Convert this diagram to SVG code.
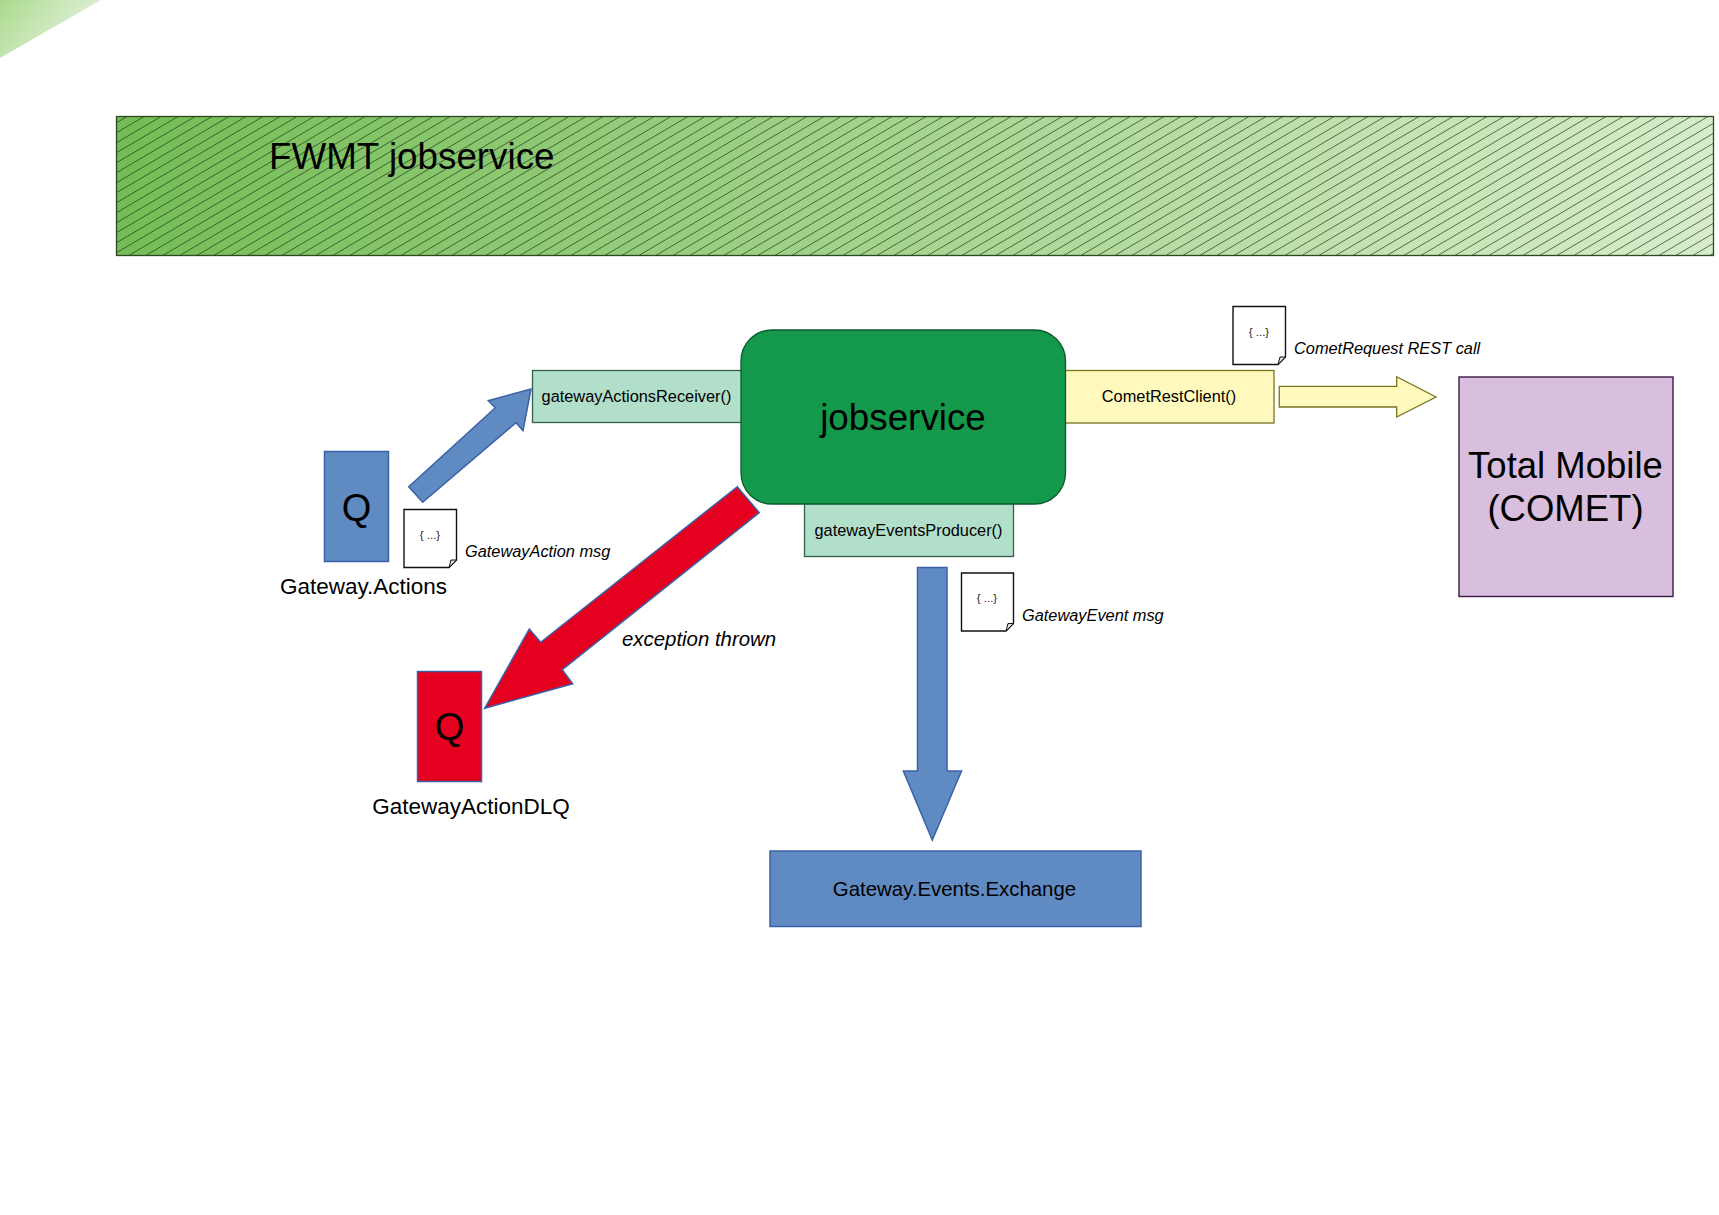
<svg xmlns="http://www.w3.org/2000/svg" width="1719" height="1215" viewBox="0 0 1719 1215">
<style>
text{font-family:"Liberation Sans",Arial,sans-serif;fill:#000}
.c{text-anchor:middle}
.i{font-style:italic}
.s17{font-size:16.35px}
.s36{font-size:36.8px}
.s22{font-size:22.5px}
.s20{font-size:20.4px}
.q{font-size:38px;text-anchor:middle}
.blue{fill:#608ac2;stroke:#3a62a8;stroke-width:1.5}
.red{fill:#e4001e;stroke:#3a62a8;stroke-width:1.5}
.mint{fill:#b2dfca;stroke:#2f6048;stroke-width:1.3}
.yel{fill:#fff9be;stroke:#77761e;stroke-width:1.3}
.doc{fill:#fff;stroke:#111;stroke-width:1.4}
.fold{fill:#ddd;stroke:#111;stroke-width:1}
.br{font-size:11.4px;text-anchor:middle;fill:#222}
</style>
<defs>
<linearGradient id="bannerGrad" gradientUnits="userSpaceOnUse" x1="116" y1="116" x2="1714" y2="255">
<stop offset="0" stop-color="#74bc55"/><stop offset="1" stop-color="#d8eccb"/>
</linearGradient>
<linearGradient id="triGrad" gradientUnits="userSpaceOnUse" x1="0" y1="0" x2="70" y2="60">
<stop offset="0" stop-color="#a9d98c"/><stop offset="1" stop-color="#e6f3de"/>
</linearGradient>
<clipPath id="bannerClip"><rect x="116.5" y="116.5" width="1597" height="139"/></clipPath>
</defs>
<rect width="1719" height="1215" fill="#fff"/>
<polygon id="corner" points="0,0 101,0 0,58" fill="url(#triGrad)"/>
<g id="banner">
<rect x="116.5" y="116.5" width="1597" height="139" fill="url(#bannerGrad)"/>
<path clip-path="url(#bannerClip)" fill="none" stroke="#1c3b12" stroke-width="0.7" d="M-109.25,255.5l238,-140
m-221,140l238,-140m-221,140l238,-140m-221,140l238,-140m-221,140l238,-140m-221,140l238,-140m-221,140l238,-140m-221,140l238,-140m-221,140l238,-140m-221,140l238,-140m-221,140l238,-140m-221,140l238,-140
m-221,140l238,-140m-221,140l238,-140m-221,140l238,-140m-221,140l238,-140m-221,140l238,-140m-221,140l238,-140m-221,140l238,-140m-221,140l238,-140m-221,140l238,-140m-221,140l238,-140m-221,140l238,-140
m-221,140l238,-140m-221,140l238,-140m-221,140l238,-140m-221,140l238,-140m-221,140l238,-140m-221,140l238,-140m-221,140l238,-140m-221,140l238,-140m-221,140l238,-140m-221,140l238,-140m-221,140l238,-140
m-221,140l238,-140m-221,140l238,-140m-221,140l238,-140m-221,140l238,-140m-221,140l238,-140m-221,140l238,-140m-221,140l238,-140m-221,140l238,-140m-221,140l238,-140m-221,140l238,-140m-221,140l238,-140
m-221,140l238,-140m-221,140l238,-140m-221,140l238,-140m-221,140l238,-140m-221,140l238,-140m-221,140l238,-140m-221,140l238,-140m-221,140l238,-140m-221,140l238,-140m-221,140l238,-140m-221,140l238,-140
m-221,140l238,-140m-221,140l238,-140m-221,140l238,-140m-221,140l238,-140m-221,140l238,-140m-221,140l238,-140m-221,140l238,-140m-221,140l238,-140m-221,140l238,-140m-221,140l238,-140m-221,140l238,-140
m-221,140l238,-140m-221,140l238,-140m-221,140l238,-140m-221,140l238,-140m-221,140l238,-140m-221,140l238,-140m-221,140l238,-140m-221,140l238,-140m-221,140l238,-140m-221,140l238,-140m-221,140l238,-140
m-221,140l238,-140m-221,140l238,-140m-221,140l238,-140m-221,140l238,-140m-221,140l238,-140m-221,140l238,-140m-221,140l238,-140m-221,140l238,-140m-221,140l238,-140m-221,140l238,-140m-221,140l238,-140
m-221,140l238,-140m-221,140l238,-140m-221,140l238,-140m-221,140l238,-140m-221,140l238,-140m-221,140l238,-140m-221,140l238,-140m-221,140l238,-140m-221,140l238,-140m-221,140l238,-140m-221,140l238,-140
m-221,140l238,-140m-221,140l238,-140m-221,140l238,-140m-221,140l238,-140m-221,140l238,-140m-221,140l238,-140m-221,140l238,-140m-221,140l238,-140m-221,140l238,-140m-221,140l238,-140m-221,140l238,-140"/>
<rect x="116.5" y="116.5" width="1597" height="139" fill="none" stroke="#2c4a20" stroke-width="1.3"/>
<text x="269" y="169" class="s36">FWMT jobservice</text>
</g>
<g id="connectors">
<polygon id="arrow-actions" class="blue" points="408.7,486.7 422.7,502.3 516,422.7 523,430.7 531,389 488.3,400.7 495.3,407.7"/>
<polygon id="arrow-exception" class="red" points="737.3,486.7 759.3,512.7 562.3,669.7 572.7,683.7 484.7,708.3 529.3,629 540.7,642.3"/>
<polygon id="arrow-events" class="blue" points="917.5,567.5 947,567.5 947,771 961.5,771 932.3,840 903.3,771 917.5,771"/>
<polygon id="arrow-comet" class="yel" points="1279.3,386.3 1396.7,386.3 1396.7,376.7 1436,397 1396.7,417 1396.7,407 1279.3,407"/>
</g>
<g id="gateway-actions-queue">
<rect x="324.5" y="451.5" width="64" height="110" class="blue"/>
<text x="356.5" y="521" class="q">Q</text>
<text x="363.5" y="594" class="s22 c">Gateway.Actions</text>
</g>
<g id="gateway-action-dlq">
<rect x="417.5" y="671.5" width="64" height="110" class="red"/>
<text x="449.5" y="740" class="q">Q</text>
<text x="471" y="814" class="s22 c">GatewayActionDLQ</text>
</g>
<g id="gateway-actions-receiver">
<rect x="532.5" y="370.5" width="215" height="52" class="mint"/>
<text x="636.5" y="402" class="s17 c">gatewayActionsReceiver()</text>
</g>
<g id="comet-rest-client">
<rect x="1055" y="370.5" width="219" height="52.5" class="yel"/>
<text x="1169" y="402" class="s17 c">CometRestClient()</text>
</g>
<g id="gateway-events-producer">
<rect x="804.5" y="495" width="209" height="61.5" class="mint"/>
<text x="908.5" y="536" class="s17 c">gatewayEventsProducer()</text>
</g>
<g id="jobservice">
<rect x="741" y="330" width="324.5" height="174" rx="31" ry="31" fill="#14984c" stroke="#0d5a2e" stroke-width="1.3"/>
<text x="903" y="430" class="s36 c">jobservice</text>
</g>
<g id="total-mobile">
<rect x="1459" y="377" width="214" height="219.5" fill="#d7bfdd" stroke="#3b1a4a" stroke-width="1.4"/>
<text x="1565.5" y="478" class="c" style="font-size:36.5px">Total Mobile</text>
<text x="1565.5" y="521" class="c" style="font-size:36.5px">(COMET)</text>
</g>
<g id="gateway-events-exchange">
<rect x="770" y="851" width="371" height="75.5" class="blue"/>
<text x="954.5" y="896" class="s20 c">Gateway.Events.Exchange</text>
</g>
<g id="msg-action">
<path class="doc" d="M404,509.5H456.5V560L449,567.5H404Z"/>
<path class="fold" d="M456.5,560H451L449,567.5Z"/>
<text x="430" y="539" class="br">{ ...}</text>
<text x="465" y="557" class="s17 i">GatewayAction msg</text>
</g>
<g id="msg-comet">
<path class="doc" d="M1233,306.5H1285.5V357L1278,364.5H1233Z"/>
<path class="fold" d="M1285.5,357H1280L1278,364.5Z"/>
<text x="1259" y="336" class="br">{ ...}</text>
<text x="1294" y="354" class="s17 i">CometRequest REST call</text>
</g>
<g id="msg-event">
<path class="doc" d="M961.5,573H1013.5V623.5L1006,631H961.5Z"/>
<path class="fold" d="M1013.5,623.5H1008L1006,631Z"/>
<text x="987" y="602" class="br">{ ...}</text>
<text x="1022" y="621" class="s17 i">GatewayEvent msg</text>
</g>
<text id="label-exception" x="622" y="645.5" class="s20 i">exception thrown</text>
</svg>
